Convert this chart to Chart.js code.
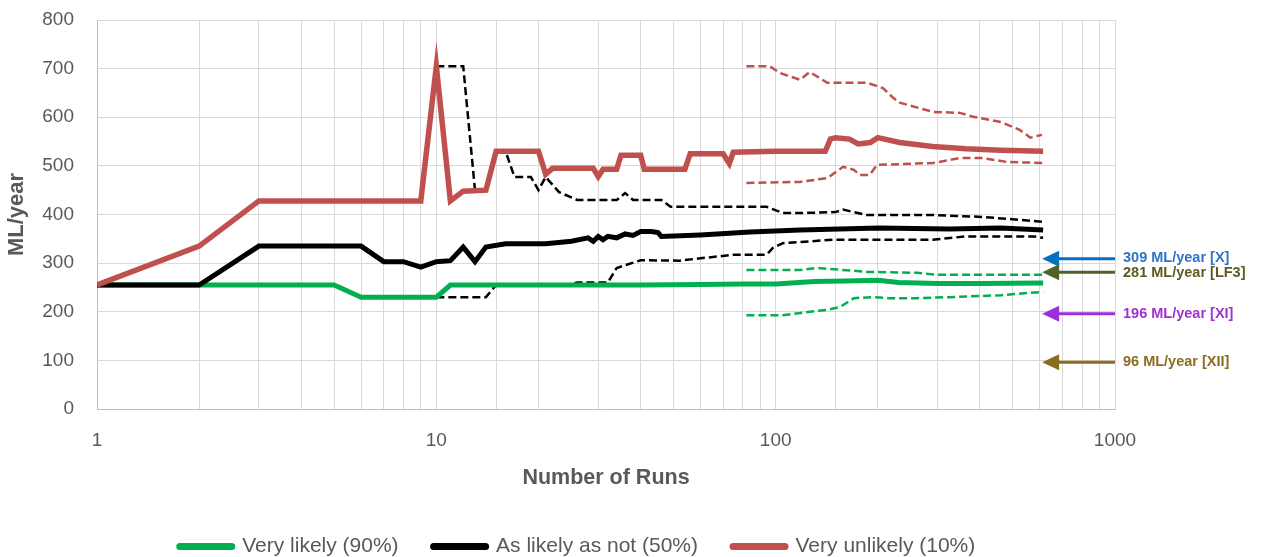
<!DOCTYPE html>
<html>
<head>
<meta charset="utf-8">
<script src="https://cdn.jsdelivr.net/npm/chart.js@4/dist/chart.umd.min.js"></script>
<style>
  body { margin: 0; background: #fff; }
  #wrap { width: 1263px; height: 557px; }
</style>
</head>
<body>
<div id="wrap"><canvas id="mychart"></canvas></div>
<script>
// solid lines (legend series)
const greenX = [1, 5, 6, 10, 11, 20, 40, 60, 80, 100, 130, 160, 200, 230, 300, 400, 614];
const greenY = [255, 255, 230, 230, 255, 255, 255, 256, 257, 257, 262, 263, 265, 260, 258, 258, 259];

const blackX = [1, 2, 3, 6, 7, 8, 9, 10, 11, 12, 13, 14, 16, 21, 25, 28, 29, 30, 31, 32, 34, 36, 38, 40, 43, 45, 46, 60, 84, 118, 202, 326, 460, 614];
const blackY = [255, 255, 335, 335, 303, 303, 292, 303, 305, 333, 303, 333, 340, 340, 345, 352, 345, 355, 348, 355, 352, 360, 357, 365, 365, 363, 355, 358, 364, 368, 372, 370, 372, 368];

const redX = [1, 2, 3, 9, 10, 11, 12, 14, 15, 20, 21, 22, 29, 30, 31, 34, 35, 40, 41, 54, 56, 70, 73, 75, 100, 140, 145, 150, 165, 175, 190, 200, 232, 290, 364, 460, 614];
const redY = [255, 335, 428, 428, 705, 428, 448, 450, 530, 530, 483, 495, 495, 478, 493, 493, 522, 522, 493, 493, 525, 525, 505, 528, 530, 530, 555, 558, 555, 545, 548, 558, 548, 540, 535, 532, 530];

// dashed bounds
const blackHiX = [10, 12, 13, 14, 15, 16, 17, 19, 20, 21, 23, 26, 34, 36, 38, 46, 49, 60, 94, 105, 118, 150, 158, 185, 290, 408, 614];
const blackHiY = [705, 705, 450, 450, 530, 530, 477, 477, 450, 477, 446, 430, 430, 444, 430, 430, 416, 416, 416, 403, 403, 405, 410, 399, 399, 395, 385];
const blackLoX = [10, 14, 15, 24, 26, 32, 34, 40, 52, 60, 75, 94, 98, 105, 147, 290, 364, 573, 614];
const blackLoY = [230, 230, 255, 255, 260, 260, 290, 306, 305, 310, 317, 317, 331, 341, 348, 348, 355, 355, 352];

const redHiX = [82, 96, 103, 118, 126, 142, 186, 207, 222, 232, 291, 349, 382, 461, 524, 563, 609];
const redHiY = [705, 705, 691, 677, 693, 671, 671, 660, 640, 630, 611, 609, 601, 590, 574, 558, 564];
const redLoX = [82, 118, 142, 158, 170, 177, 189, 199, 291, 349, 408, 480, 614];
const redLoY = [465, 467, 475, 498, 492, 481, 481, 502, 506, 516, 516, 508, 506];

const greenHiX = [82, 118, 133, 186, 261, 300, 614];
const greenHiY = [286, 286, 290, 282, 280, 276, 276];
const greenLoX = [82, 105, 126, 142, 155, 170, 194, 213, 261, 326, 461, 614];
const greenLoY = [193, 193, 200, 204, 210, 228, 230, 228, 228, 230, 234, 241];

// reference markers on the right
const markerValues = [309, 281, 196, 96];
const markerLabels = ['309 ML/year [X]', '281 ML/year [LF3]', '196 ML/year [XI]', '96 ML/year [XII]'];
const markerColors = ['#0070c0', '#4f6228', '#9b30d9', '#8c6d1f'];
const markerTextColors = ['#2e75c6', '#5e5a22', '#a030d8', '#8c6d1f'];
const markerFrom = 610;
const markerTo = 1000;

const pts = (xs, ys) => xs.map((x, i) => ({ x: x, y: ys[i] }));

const GREEN = '#00b050';
const BLACK = '#000000';
const RED = '#c0504d';
const GREY = '#595959';
const FONT = '"Liberation Sans", Arial, sans-serif';

function dashed(xs, ys, color) {
    return {
        label: '',
        data: pts(xs, ys),
        borderColor: color,
        borderWidth: 2.5,
        borderDash: [8, 4],
        pointRadius: 0,
        order: 5,
        hideInLegend: true,
    };
}

const markerPlugin = {
    id: 'markers',
    afterLayout(chart) {
        // legend sits a little right of the canvas centre in the original
        chart.legend.left += 18;
        chart.legend.right += 18;
    },
    afterDatasetsDraw(chart) {
        const ctx = chart.ctx;
        const xs = chart.scales.x;
        const ys = chart.scales.y;
        const x0 = xs.getPixelForValue(markerFrom);
        const x1 = xs.getPixelForValue(markerTo);
        ctx.save();
        markerValues.forEach((v, i) => {
            const y = ys.getPixelForValue(v);
            ctx.strokeStyle = markerColors[i];
            ctx.fillStyle = markerColors[i];
            ctx.lineWidth = 3;
            ctx.beginPath();
            ctx.moveTo(x0 + 14, y);
            ctx.lineTo(x1, y);
            ctx.stroke();
            ctx.beginPath();
            ctx.moveTo(x0, y);
            ctx.lineTo(x0 + 17, y - 8);
            ctx.lineTo(x0 + 17, y + 8);
            ctx.closePath();
            ctx.fill();
            ctx.fillStyle = markerTextColors[i];
            ctx.font = 'bold 14.5px ' + FONT;
            ctx.textBaseline = 'middle';
            ctx.fillText(markerLabels[i], x1 + 8, y + (i === 0 ? -1 : i === 1 ? 1 : 0));
        });
        ctx.restore();
    }
};

const ctx = document.getElementById('mychart');
new Chart(ctx, {
    type: 'line',
    data: {
        datasets: [
            { label: 'Very likely (90%)', data: pts(greenX, greenY), borderColor: GREEN, backgroundColor: GREEN, borderWidth: 5, pointRadius: 0, order: 2 },
            { label: 'As likely as not (50%)', data: pts(blackX, blackY), borderColor: BLACK, backgroundColor: BLACK, borderWidth: 5, pointRadius: 0, order: 1 },
            { label: 'Very unlikely (10%)', data: pts(redX, redY), borderColor: RED, backgroundColor: RED, borderWidth: 5.5, pointRadius: 0, order: 0 },
            dashed(blackHiX, blackHiY, BLACK),
            dashed(blackLoX, blackLoY, BLACK),
            dashed(redHiX, redHiY, RED),
            dashed(redLoX, redLoY, RED),
            dashed(greenHiX, greenHiY, GREEN),
            dashed(greenLoX, greenLoY, GREEN),
        ],
    },
    options: {
        responsive: true,
        maintainAspectRatio: false,
        animation: false,
        layout: { padding: { left: 4, right: 148, top: 20, bottom: 0 } },
        plugins: {
            tooltip: { enabled: false },
            legend: {
                position: 'bottom',
                maxHeight: 56,
                labels: {
                    filter: (item, data) => !data.datasets[item.datasetIndex].hideInLegend,
                    sort: (a, b) => a.datasetIndex - b.datasetIndex,
                    usePointStyle: true,
                    pointStyleWidth: 52,
                    color: GREY,
                    font: { family: FONT, size: 21 },
                    padding: 35,
                    generateLabels(chart) {
                        const items = Chart.defaults.plugins.legend.labels.generateLabels(chart);
                        items.forEach(it => { it.pointStyle = 'line'; it.lineWidth = 7; it.lineCap = 'round'; });
                        return items;
                    },
                },
            },
        },
        scales: {
            x: {
                type: 'logarithmic',
                min: 1,
                max: 1000,
                grid: { color: '#d9d9d9', drawTicks: false },
                border: { color: '#bfbfbf' },
                afterFit: function (scale) { scale.height = 92; },
                ticks: {
                    color: GREY,
                    font: { family: FONT, size: 19 },
                    padding: 20,
                    autoSkip: false,
                    maxRotation: 0,
                    callback: function (v) {
                        const l = Math.log10(v);
                        return Math.abs(l - Math.round(l)) < 1e-9 ? String(v) : '';
                    },
                },
                title: {
                    display: true,
                    text: 'Number of Runs',
                    color: GREY,
                    font: { family: FONT, size: 21.5, weight: 'bold' },
                    padding: { top: 4, bottom: 10 },
                },
            },
            y: {
                min: 0,
                max: 800,
                grid: { color: '#d9d9d9', drawTicks: false },
                border: { color: '#bfbfbf' },
                afterFit: function (scale) {
                    scale.width = 93;
                    scale.paddingTop = 0;
                    scale.paddingBottom = 0;
                },
                ticks: {
                    stepSize: 100,
                    color: GREY,
                    font: { family: FONT, size: 19 },
                    padding: 23,
                },
                title: {
                    display: true,
                    text: 'ML/year',
                    color: GREY,
                    font: { family: FONT, size: 22, weight: 'bold' },
                    padding: { top: 0, bottom: 0 },
                },
            },
        },
    },
    plugins: [markerPlugin],
});
</script>
</body>
</html>
